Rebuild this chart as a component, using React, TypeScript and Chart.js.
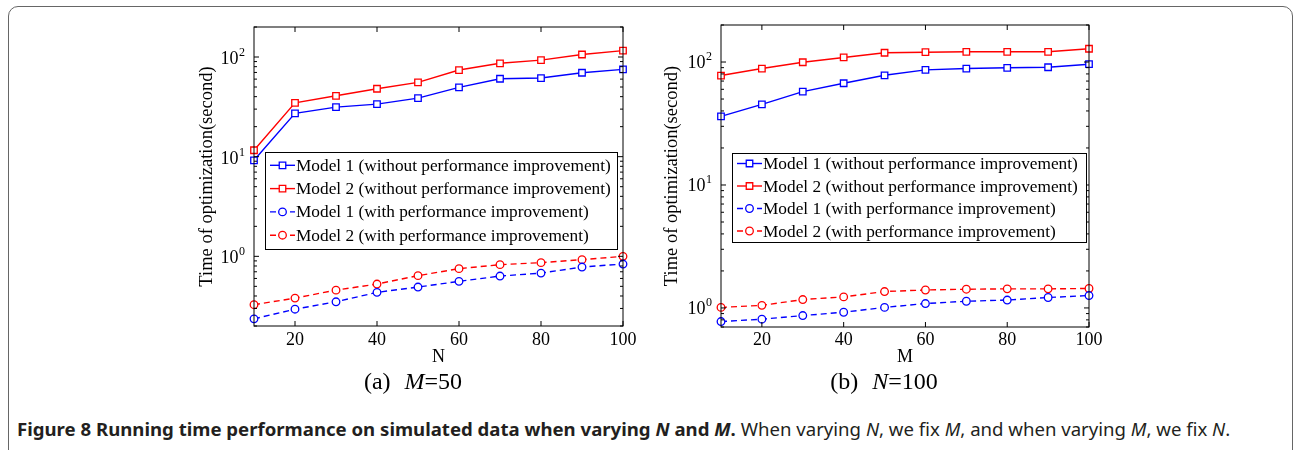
import React, { useEffect, useRef } from "react";
import { Chart, registerables } from "chart.js";

Chart.register(...registerables);

// ---------------- data ----------------
const nValues = [10, 20, 30, 40, 50, 60, 70, 80, 90, 100];
const mValues = [10, 20, 30, 40, 50, 60, 70, 80, 90, 100];
const xTickValues = [20, 40, 60, 80, 100];
const yTickExponents = [0, 1, 2];

const seriesLabels = [
  "Model 1 (without performance improvement)",
  "Model 2 (without performance improvement)",
  "Model 1 (with performance improvement)",
  "Model 2 (with performance improvement)",
];

// (a) varying N, M = 50
const varyNModel1Without = [9.2, 27.2, 31.4, 33.7, 38.7, 49.6, 60.5, 61.5, 69.5, 75.2];
const varyNModel2Without = [11.6, 34.7, 40.8, 48.0, 55.7, 74.0, 86.5, 93.0, 106, 116];
const varyNModel1With = [0.236, 0.295, 0.35, 0.435, 0.492, 0.561, 0.634, 0.679, 0.781, 0.837];
const varyNModel2With = [0.327, 0.381, 0.458, 0.527, 0.64, 0.752, 0.825, 0.864, 0.926, 1.0];

// (b) varying M, N = 100
const varyMModel1Without = [36.1, 45.3, 57.5, 67.2, 78.0, 86.3, 88.5, 89.7, 90.7, 96.0];
const varyMModel2Without = [77.6, 88.5, 99.6, 108.9, 118.9, 120.2, 121.1, 121.1, 121.1, 128.2];
const varyMModel1With = [0.775, 0.81, 0.867, 0.923, 1.01, 1.086, 1.134, 1.16, 1.216, 1.262];
const varyMModel2With = [1.01, 1.05, 1.17, 1.23, 1.36, 1.4, 1.42, 1.43, 1.43, 1.44];

// ---------------- styles ----------------
const SERIF = "'Liberation Serif', 'Times New Roman', serif";
const BLUE = "#0000ff";
const RED = "#ff0000";

function makeDataset(label: string, xs: number[], ys: number[], color: string, dashed: boolean) {
  return {
    label,
    data: xs.map((x, i) => ({ x, y: ys[i] })),
    borderColor: color,
    backgroundColor: "#ffffff",
    borderWidth: 1.4,
    borderDash: dashed ? [6, 4] : [],
    pointStyle: dashed ? "circle" : "rect",
    pointRadius: dashed ? 3.8 : 4.6,
    pointBorderWidth: 1.3,
    pointBackgroundColor: "#ffffff",
    pointBorderColor: color,
    tension: 0,
    clip: false,
  };
}

const matlabAxesPlugin = {
  id: "matlabAxes",
  afterDatasetsDraw(chart: any) {
    const { ctx, chartArea: a, scales } = chart;
    const xs = scales.x;
    const ys = scales.y;
    ctx.save();
    ctx.strokeStyle = "#000";
    ctx.lineWidth = 1;
    ctx.setLineDash([]);
    ctx.strokeRect(a.left, a.top, a.right - a.left, a.bottom - a.top);
    ctx.beginPath();
    for (const t of xs.ticks) {
      const px = xs.getPixelForValue(t.value);
      ctx.moveTo(px, a.bottom);
      ctx.lineTo(px, a.bottom - 5);
      ctx.moveTo(px, a.top);
      ctx.lineTo(px, a.top + 5);
    }
    const min = ys.min;
    const max = ys.max;
    for (let e = Math.floor(Math.log10(min)); e <= Math.ceil(Math.log10(max)); e++) {
      for (let k = 1; k <= 9; k++) {
        const v = k * Math.pow(10, e);
        if (v < min * 0.9999 || v > max * 1.0001) continue;
        const py = ys.getPixelForValue(v);
        const len = k === 1 ? 5 : 3;
        ctx.moveTo(a.left, py);
        ctx.lineTo(a.left + len, py);
        ctx.moveTo(a.right, py);
        ctx.lineTo(a.right - len, py);
      }
    }
    ctx.stroke();
    ctx.restore();
  },
  afterDraw(chart: any, _args: any, opts: any) {
    const { ctx, chartArea: a, scales } = chart;
    const ys = scales.y;
    ctx.save();
    // y tick labels 10^n
    ctx.fillStyle = "#000";
    for (const e of yTickExponents) {
      const v = Math.pow(10, e);
      if (v < ys.min * 0.9999 || v > ys.max * 1.0001) continue;
      const py = ys.getPixelForValue(v);
      const sup = String(e);
      ctx.font = `12px ${SERIF}`;
      const supW = ctx.measureText(sup).width;
      const right = a.left - 9;
      ctx.textBaseline = "alphabetic";
      ctx.textAlign = "left";
      ctx.fillText(sup, right - supW, py + opts.labelDy - 8);
      ctx.font = `18px ${SERIF}`;
      ctx.textAlign = "right";
      ctx.fillText("10", right - supW - 0.5, py + opts.labelDy);
    }
    // legend
    const L = opts.legend;
    const bx = a.left + L.dx;
    const by = a.top + L.dy;
    ctx.fillStyle = "#fff";
    ctx.fillRect(bx, by, L.w, L.h);
    ctx.strokeStyle = "#000";
    ctx.lineWidth = 1;
    ctx.setLineDash([]);
    ctx.strokeRect(Math.round(bx) + 0.5, Math.round(by) + 0.5, L.w, L.h);
    chart.data.datasets.forEach((ds: any, i: number) => {
      const ry = by + L.first + i * L.gap;
      const x0 = bx + 5;
      const x1 = bx + 30;
      const cx = (x0 + x1) / 2;
      ctx.strokeStyle = ds.borderColor;
      ctx.lineWidth = ds.borderWidth;
      ctx.setLineDash(ds.borderDash);
      ctx.beginPath();
      ctx.moveTo(x0, ry);
      ctx.lineTo(x1, ry);
      ctx.stroke();
      ctx.setLineDash([]);
      ctx.lineWidth = ds.pointBorderWidth;
      ctx.fillStyle = "#fff";
      ctx.beginPath();
      if (ds.pointStyle === "rect") {
        const s = Math.SQRT1_2 * ds.pointRadius;
        ctx.rect(cx - s, ry - s, 2 * s, 2 * s);
      } else {
        ctx.arc(cx, ry, ds.pointRadius, 0, Math.PI * 2);
      }
      ctx.fill();
      ctx.stroke();
      ctx.fillStyle = "#000";
      ctx.font = `17.3px ${SERIF}`;
      ctx.textAlign = "left";
      ctx.textBaseline = "middle";
      ctx.fillText(ds.label, bx + 31, ry + 1);
    });
    ctx.restore();
  },
};

type PanelSpec = {
  area: { l: number; t: number; r: number; b: number };
  canvasTop: number;
  canvasH: number;
  yTitleX: number;
  xTitleY: number;
  xLabelY: number;
  xTitle: string;
  yMin: number;
  yMax: number;
  xs: number[];
  series: number[][];
  legend: { dx: number; dy: number; w: number; h: number; first: number; gap: number };
  labelDy: number;
};

function Panel({ spec }: { spec: PanelSpec }) {
  const ref = useRef<HTMLCanvasElement>(null);
  const yW = 70;
  const padR = 20;
  const canvasLeft = spec.area.l - yW;
  const canvasW = spec.area.r - canvasLeft + padR;
  const cTop = spec.area.t - spec.canvasTop;
  const cBottom = spec.area.b - spec.canvasTop;
  const titleFont = 18;
  const yTitleFont = 18.5;
  const padBottom = spec.canvasH - (spec.xTitleY - spec.canvasTop) - (titleFont * 1.2) / 2;
  const xH = spec.canvasH - padBottom - cBottom;
  const yTitlePad = spec.yTitleX - canvasLeft - (yTitleFont * 1.2) / 2;
  const tickPad = spec.xLabelY - spec.canvasTop - cBottom - (18 * 1.2) / 2;

  useEffect(() => {
    const colors = [BLUE, RED, BLUE, RED];
    const datasets = spec.series.map((s, i) =>
      makeDataset(seriesLabels[i], spec.xs, s, colors[i], i >= 2)
    );
    const chart = new Chart(ref.current as HTMLCanvasElement, {
      type: "line",
      data: { datasets } as any,
      plugins: [matlabAxesPlugin],
      options: {
        responsive: false,
        maintainAspectRatio: false,
        animation: false,
        devicePixelRatio: 1,
        layout: { padding: { left: 0, top: cTop, right: padR, bottom: padBottom } },
        plugins: {
          legend: { display: false },
          tooltip: { enabled: false },
          matlabAxes: { legend: spec.legend, labelDy: spec.labelDy },
        } as any,
        scales: {
          x: {
            type: "linear",
            min: 10,
            max: 100,
            afterBuildTicks: (s: any) => {
              s.ticks = xTickValues.map((v) => ({ value: v }));
            },
            afterFit: (s: any) => {
              s.height = xH;
              s.paddingLeft = 0;
              s.paddingRight = 0;
            },
            grid: { display: false, drawTicks: false },
            border: { display: false },
            ticks: {
              color: "#000",
              font: { family: SERIF, size: 18 },
              padding: tickPad,
              maxRotation: 0,
              autoSkip: false,
              callback: (v: any) => String(v),
            },
            title: {
              display: true,
              text: spec.xTitle,
              color: "#000",
              font: { family: SERIF, size: titleFont },
              padding: 0,
            },
          },
          y: {
            type: "logarithmic",
            min: spec.yMin,
            max: spec.yMax,
            afterFit: (s: any) => {
              s.width = yW;
              s.paddingTop = 0;
              s.paddingBottom = 0;
            },
            grid: { display: false, drawTicks: false },
            border: { display: false },
            ticks: { display: false },
            title: {
              display: true,
              text: "Time of optimization(second)",
              color: "#000",
              font: { family: SERIF, size: yTitleFont },
              padding: { top: yTitlePad, bottom: 0 },
            },
          },
        } as any,
      },
    });
    return () => chart.destroy();
  }, []);

  return (
    <canvas
      ref={ref}
      width={canvasW}
      height={spec.canvasH}
      style={{
        position: "absolute",
        left: canvasLeft,
        top: spec.canvasTop,
        width: canvasW,
        height: spec.canvasH,
        display: "block",
      }}
    />
  );
}

const panelA: PanelSpec = {
  area: { l: 254, t: 27, r: 623, b: 326 },
  canvasTop: 10,
  canvasH: 362,
  yTitleX: 207,
  xTitleY: 357,
  xLabelY: 340,
  xTitle: "N",
  yMin: 0.2,
  yMax: 200,
  xs: nValues,
  series: [varyNModel1Without, varyNModel2Without, varyNModel1With, varyNModel2With],
  legend: { dx: 11, dy: 125, w: 352, h: 97, first: 13.3, gap: 23.3 },
  labelDy: 7,
};

const panelB: PanelSpec = {
  area: { l: 721, t: 25, r: 1089, b: 327 },
  canvasTop: 8,
  canvasH: 362,
  yTitleX: 672.5,
  xTitleY: 357,
  xLabelY: 340.5,
  xTitle: "M",
  yMin: 0.7,
  yMax: 200,
  xs: mValues,
  series: [varyMModel1Without, varyMModel2Without, varyMModel1With, varyMModel2With],
  legend: { dx: 11, dy: 127.5, w: 354, h: 89, first: 11, gap: 22.5 },
  labelDy: 6,
};

const subCaptionStyle: React.CSSProperties = {
  position: "absolute",
  top: 367,
  transform: "translateX(-50%)",
  fontFamily: SERIF,
  fontSize: 24,
  lineHeight: "28px",
  whiteSpace: "pre",
  color: "#000",
};

export default function App() {
  return (
    <div
      style={{
        position: "absolute",
        left: 0,
        top: 0,
        width: 1294,
        height: 450,
        background: "#fff",
        overflow: "hidden",
      }}
    >
      <div
        style={{
          position: "absolute",
          left: 8,
          top: 6,
          width: 1285,
          height: 520,
          border: "1px solid #666",
          borderRadius: 10,
          boxSizing: "border-box",
        }}
      />
      <Panel spec={panelA} />
      <Panel spec={panelB} />
      <div style={{ ...subCaptionStyle, left: 413 }}>
        (a)<span style={{ marginLeft: 14 }} />
        <i>M</i>=50
      </div>
      <div style={{ ...subCaptionStyle, left: 884 }}>
        (b)<span style={{ marginLeft: 14 }} />
        <i>N</i>=100
      </div>
      <div
        style={{
          position: "absolute",
          left: 17,
          top: 417,
          fontFamily: "'Noto Sans', sans-serif",
          fontSize: 18.6,
          lineHeight: "24px",
          whiteSpace: "nowrap",
          color: "#231f20",
        }}
      >
        <b>
          Figure 8 Running time performance on simulated data when varying <i>N</i> and <i>M</i>.
        </b>{" "}
        When varying <i>N</i>, we fix <i>M</i>, and when varying <i>M</i>, we fix <i>N</i>.
      </div>
    </div>
  );
}
